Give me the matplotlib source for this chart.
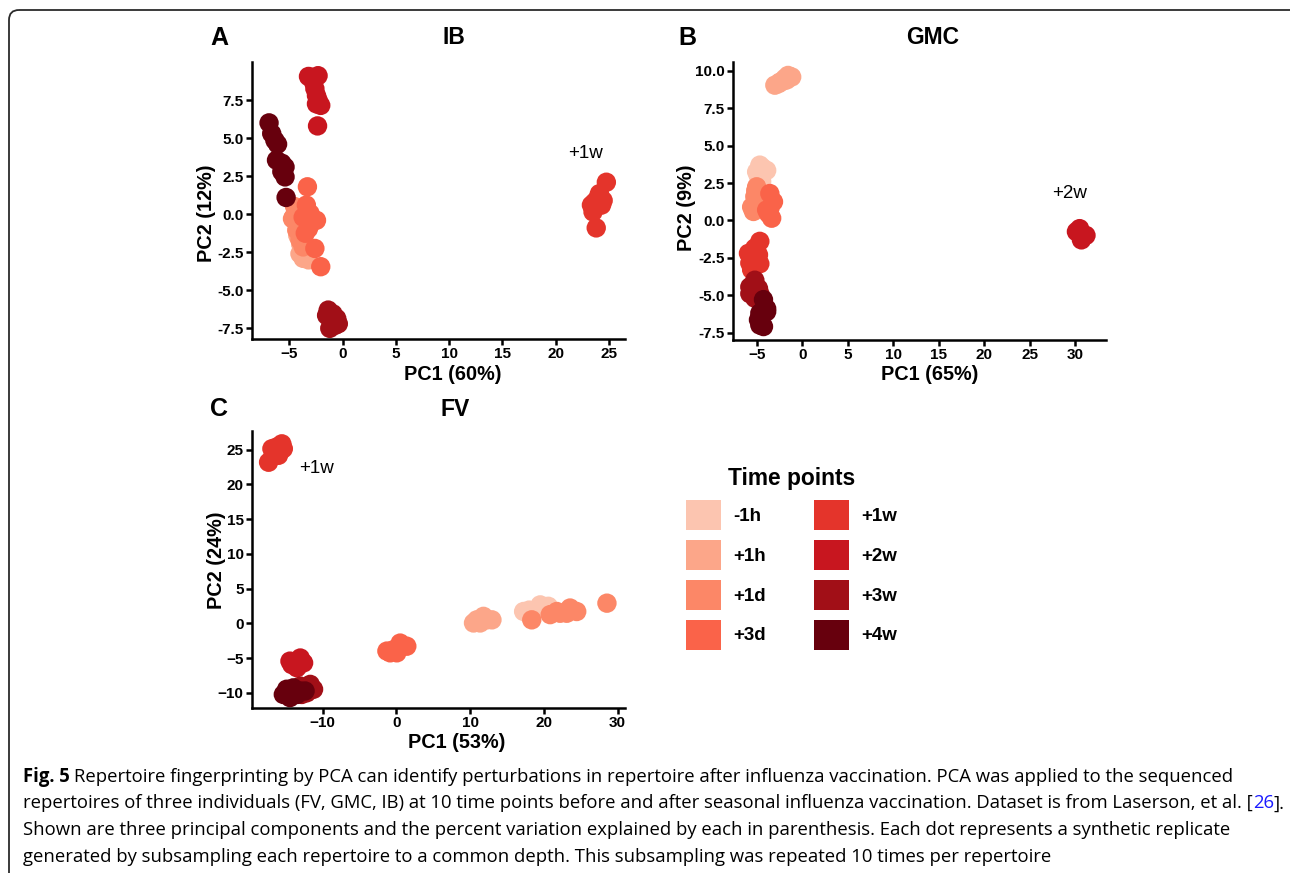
import matplotlib.pyplot as plt
from matplotlib.patches import FancyBboxPatch, Patch
from matplotlib.ticker import FixedLocator, FormatStrFormatter

W, H = 1290, 873
FONT = "Liberation Sans"
CAP_FONT = "Open Sans"

# --- data ------------------------------------------------------------------

time_points = ["-1h", "+1h", "+1d", "+3d", "+1w", "+2w", "+3w", "+4w"]
time_colors = ["#FCC5B0", "#FCA689", "#FC8767", "#FA6349",
               "#E4342B", "#C8161F", "#A10F17", "#67000D"]

# IB
ib_pc1 = {
    "-1h": [-4.0, -3.8, -3.9, -4.1, -3.7, -4.0],
    "+1h": [-3.7, -3.2, -4.0, -3.9, -3.5, -4.2],
    "+1d": [-4.6, -4.3, -4.0, -3.7, -4.5, -4.2, -4.7, -3.9],
    "+3d": [-3.3, -3.4, -3.7, -2.9, -2.45, -3.2, -3.5, -2.6, -2.05, -3.05],
    "+1w": [24.75, 24.45, 24.1, 23.65, 23.35, 23.8, 23.5, 24.3, 23.8, 23.95],
    "+2w": [-3.2, -2.3, -2.75, -2.6, -2.45, -2.3, -2.05, -2.45, -2.35, -3.0],
    "+3w": [-1.35, -0.9, -0.55, -1.05, -0.7, -1.2, -1.5, -0.4],
    "+4w": [-6.9, -6.65, -6.35, -6.1, -6.2, -5.7, -5.4, -5.7, -5.4, -5.3],
}
ib_pc2 = {
    "-1h": [-1.0, -1.5, -2.0, -0.6, -2.3, -1.2],
    "+1h": [-2.9, -3.0, -2.6, -2.0, -2.4, -1.4],
    "+1d": [-0.2, -1.05, -1.7, -2.15, 0.5, -0.6, -0.3, -1.4],
    "+3d": [1.8, 0.6, -0.2, -0.5, -0.4, -0.95, -1.25, -2.25, -3.45, 0.05],
    "+1w": [2.1, 0.9, 1.35, 0.8, 0.6, 0.5, 0.15, 0.6, -0.9, 1.05],
    "+2w": [9.05, 9.1, 8.7, 8.25, 7.8, 7.5, 7.15, 7.25, 5.8, 9.0],
    "+3w": [-6.3, -6.55, -6.85, -7.05, -7.3, -7.5, -6.65, -7.2],
    "+4w": [6.0, 5.3, 4.85, 4.6, 3.55, 3.35, 3.1, 2.8, 2.45, 1.1],
}

# GMC
gmc_pc1 = {
    "-1h": [-4.65, -3.9, -4.8, -4.45, -5.0, -4.3],
    "+1h": [-3.0, -2.45, -1.9, -1.55, -1.15, -2.6, -1.7, -2.2],
    "+1d": [-5.0, -5.2, -5.55, -5.35, -4.8, -5.1],
    "+3d": [-3.55, -3.15, -3.55, -3.9, -3.35, -3.7],
    "+1w": [-4.65, -5.2, -5.9, -4.8, -5.75, -5.2, -4.65, -5.55],
    "+2w": [30.7, 30.15, 31.2, 30.7, 30.5],
    "+3w": [-5.2, -5.75, -4.8, -5.75, -5.2, -4.65],
    "+4w": [-4.25, -3.9, -4.65, -3.9, -4.8, -4.25, -4.65],
}
gmc_pc2 = {
    "-1h": [3.7, 3.35, 2.95, 2.6, 3.25, 3.5],
    "+1h": [9.05, 9.25, 9.5, 9.7, 9.6, 9.15, 9.4, 9.3],
    "+1d": [2.25, 1.6, 0.9, 0.6, 1.25, 2.0],
    "+3d": [1.8, 1.25, 0.8, 0.7, 0.15, 0.45],
    "+1w": [-1.4, -1.85, -2.2, -2.3, -2.85, -2.75, -2.9, -3.3],
    "+2w": [-0.85, -0.75, -1.0, -1.3, -0.55],
    "+3w": [-4.0, -4.45, -4.55, -4.9, -5.2, -4.9],
    "+4w": [-5.3, -5.9, -6.2, -6.1, -6.65, -7.1, -7.0],
}

# FV
fv_pc1 = {
    "-1h": [17.25, 19.5, 20.6, 19.05, 18.0],
    "+1h": [10.45, 11.35, 12.25, 12.95, 11.8, 10.9],
    "+1d": [18.35, 20.85, 22.2, 23.55, 24.45, 23.1, 28.55, 21.75],
    "+3d": [-1.3, -0.4, 0.5, 1.4, 0.05, -0.85],
    "+1w": [-17.35, -16.7, -16.25, -15.55, -16.9, -16.0, -15.35],
    "+2w": [-14.45, -13.05, -12.6, -13.5, -14.2],
    "+3w": [-13.05, -11.7, -11.25, -12.15, -12.85],
    "+4w": [-14.9, -14.0, -13.05, -12.4, -14.45, -13.5, -15.35],
}
fv_pc2 = {
    "-1h": [1.7, 2.65, 2.45, 1.95, 1.9],
    "+1h": [0.05, 0.05, 0.5, 0.5, 1.0, 0.5],
    "+1d": [0.5, 1.25, 1.45, 2.2, 1.7, 1.45, 2.9, 1.7],
    "+3d": [-4.0, -3.8, -2.85, -3.3, -4.25, -4.25],
    "+1w": [23.2, 24.4, 25.4, 25.85, 25.15, 24.2, 25.15],
    "+2w": [-5.45, -5.0, -5.7, -6.4, -5.95],
    "+3w": [-9.05, -8.8, -9.5, -10.0, -10.25],
    "+4w": [-9.5, -9.3, -9.75, -9.75, -10.7, -10.25, -10.25],
}

caption_lines = [
    [("Fig. 5", "bold", "black"),
     ("Repertoire fingerprinting by PCA can identify perturbations in repertoire after "
      "influenza vaccination. PCA was applied to the sequenced", "normal", "black")],
    [("repertoires of three individuals (FV, GMC, IB) at 10 time points before and after "
      "seasonal influenza vaccination. Dataset is from Laserson, et al. [", "normal", "black"),
     ("26", "normal", "#1a1aff"), ("].", "normal", "black")],
    [("Shown are three principal components and the percent variation explained by each in "
      "parenthesis. Each dot represents a synthetic replicate", "normal", "black")],
    [("generated by subsampling each repertoire to a common depth. This subsampling was "
      "repeated 10 times per repertoire", "normal", "black")],
]


def box(l, t, r, b):
    """pixel box (left, top, right, bottom) -> figure fraction rect"""
    return [l / W, 1 - b / H, (r - l) / W, (b - t) / H]


def draw_panel(ax, pc1, pc2, xlim, ylim, xticks, yticks, yfmt, note):
    for tp, col in zip(time_points, time_colors):
        ax.scatter(pc1[tp], pc2[tp], s=195, color=col, edgecolors="none",
                   linewidths=0, zorder=3)
    ax.set_xlim(*xlim)
    ax.set_ylim(*ylim)
    ax.xaxis.set_major_locator(FixedLocator(xticks))
    ax.yaxis.set_major_locator(FixedLocator(yticks))
    if yfmt:
        ax.yaxis.set_major_formatter(FormatStrFormatter(yfmt))
    for s in ("top", "right"):
        ax.spines[s].set_visible(False)
    for s in ("left", "bottom"):
        ax.spines[s].set_linewidth(1.8)
        ax.spines[s].set_color("black")
    ax.tick_params(direction="out", length=4, width=1.8, colors="black",
                   labelsize=11, pad=2)
    for lab in ax.get_xticklabels() + ax.get_yticklabels():
        lab.set_fontweight("bold")
        lab.set_fontfamily(FONT)
    ax.text(note[0], note[1], note[2], ha="center", va="center",
            fontsize=13.5, family=FONT, color="black")


fig = plt.figure(figsize=(W / 100, H / 100), dpi=100)

bg = fig.add_axes([0, 0, 1, 1])
bg.set_xlim(0, W)
bg.set_ylim(H, 0)
bg.axis("off")

frame = FancyBboxPatch((9, 10), W - 16 + 20, H + 40,
                       boxstyle="round,pad=0,rounding_size=10",
                       fill=False, ec="#2b2b2b", lw=1.3)
bg.add_patch(frame)

ax_a = fig.add_axes(box(252, 62, 625, 339))
draw_panel(ax_a, ib_pc1, ib_pc2, (-8.5, 26.5), (-8.2, 10.0),
           [-5, 0, 5, 10, 15, 20, 25], [-7.5, -5, -2.5, 0, 2.5, 5, 7.5], "%.1f",
           (22.8, 4.0, "+1w"))

ax_b = fig.add_axes(box(733, 62, 1106, 340))
draw_panel(ax_b, gmc_pc1, gmc_pc2, (-7.6, 33.4), (-8.0, 10.6),
           [-5, 0, 5, 10, 15, 20, 25, 30], [-7.5, -5, -2.5, 0, 2.5, 5, 7.5, 10], "%.1f",
           (29.4, 1.8, "+2w"))

ax_c = fig.add_axes(box(252, 431, 625, 708))
draw_panel(ax_c, fv_pc1, fv_pc2, (-19.6, 31.0), (-12.2, 27.7),
           [-10, 0, 10, 20, 30], [-10, -5, 0, 5, 10, 15, 20, 25], None,
           (-10.8, 22.3, "+1w"))

# panel letters, titles and axis labels (pixel positions)
for x, y, s in [(219, 38, "A"), (687, 38, "B"), (219, 409, "C")]:
    bg.text(x, y, s, ha="center", va="center", fontsize=18, fontweight="bold", family=FONT)
for x, y, s in [(454, 38, "IB"), (933, 38, "GMC"), (455, 409, "FV")]:
    bg.text(x, y, s, ha="center", va="center", fontsize=16.5, fontweight="bold", family=FONT)
for x, y, s in [(453, 374, "PC1 (60%)"), (930, 374, "PC1 (65%)"), (457, 743, "PC1 (53%)")]:
    bg.text(x, y, s, ha="center", va="center", fontsize=14.3, fontweight="bold", family=FONT)
for x, y, s in [(206, 213, "PC2 (12%)"), (687, 208, "PC2 (9%)"), (216, 560, "PC2 (24%)")]:
    bg.text(x, y, s, ha="center", va="center", rotation=90, fontsize=14.3,
            fontweight="bold", family=FONT)

# legend
handles = [Patch(facecolor=c, edgecolor="none") for c in time_colors]
fig.legend(handles, time_points, ncol=2, loc="upper left",
           bbox_to_anchor=(686 / W, 1 - 467 / H), frameon=False,
           prop={"family": FONT, "weight": "bold", "size": 13.5},
           title="Time points",
           title_fontproperties={"family": FONT, "weight": "bold", "size": 16.4},
           handlelength=1.87, handleheight=2.08, labelspacing=0.53,
           handletextpad=0.64, columnspacing=2.56, borderpad=0, borderaxespad=0)

# caption
renderer = fig.canvas.get_renderer()


def text_w(s, size, weight="normal"):
    t = bg.text(0, 0, s, fontsize=size, fontweight=weight, family=CAP_FONT)
    w = t.get_window_extent(renderer).width
    t.remove()
    return w


size0 = 12
line2 = "".join(c[0] for c in caption_lines[1])
cap_size = size0 * 1259 / text_w(line2, size0)
space_w = text_w("a a", cap_size) - text_w("aa", cap_size)

y0 = 782
for i, chunks in enumerate(caption_lines):
    x = 23
    y = y0 + i * 26.5
    for j, (s, weight, color) in enumerate(chunks):
        t = bg.text(x, y, s, ha="left", va="baseline", fontsize=cap_size,
                    fontweight=weight, family=CAP_FONT, color=color)
        x += t.get_window_extent(renderer).width
        if i == 0 and j == 0:
            x += space_w

fig.savefig("out.png", dpi=100)
